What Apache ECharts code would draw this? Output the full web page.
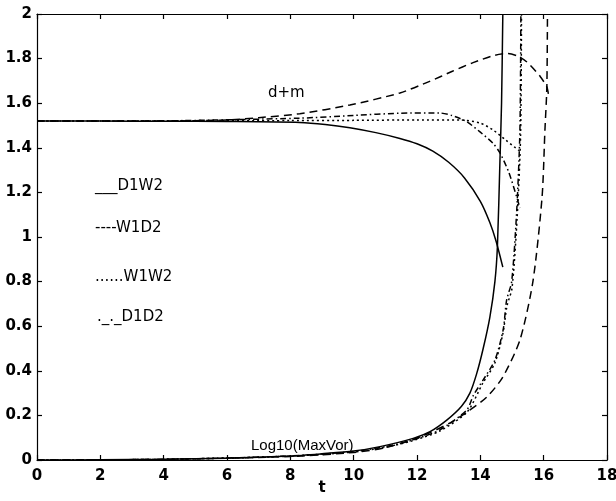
<!DOCTYPE html>
<html>
<head>
<meta charset="utf-8">
<script src="https://cdn.jsdelivr.net/npm/echarts@6/dist/echarts.min.js"></script>
<style>
  html, body { margin: 0; padding: 0; background: #fff; }
  #chart { width: 616px; height: 501px; }
</style>
</head>
<body>
<div id="chart"></div>
<script>
// values, [t, value]
const xTicks = [0, 2, 4, 6, 8, 10, 12, 14, 16, 18];
const yTicks = [0, 0.2, 0.4, 0.6, 0.8, 1, 1.2, 1.4, 1.6, 1.8, 2];

// d+m curves
const d1w2Dm = [[0,1.52],[2,1.52],[4,1.519],[6,1.518],[8.3,1.514],[9.1,1.505],[9.88,1.49],[10.7,1.468],[11.46,1.442],[12,1.418],[12.5,1.385],[13,1.335],[13.5,1.265],[14,1.16],[14.3,1.065],[14.5,0.98],[14.71,0.865]];
const w1d2Dm = [[0,1.52],[4,1.52],[6,1.525],[7,1.535],[8.3,1.553],[9.88,1.592],[11.46,1.646],[12.4,1.698],[13.1,1.742],[13.77,1.782],[14.46,1.815],[14.87,1.823],[15.2,1.81],[15.47,1.785],[15.89,1.72],[16.1,1.673],[16.15,1.64]];
const w1w2Dm = [[0,1.52],[4,1.52],[8,1.522],[10,1.523],[12,1.525],[13.36,1.525],[14,1.511],[14.4,1.48],[14.8,1.435],[15.2,1.39],[15.3,1.38]];
const d1d2Dm = [[0,1.52],[4,1.521],[8.3,1.533],[10,1.545],[11.46,1.555],[12.72,1.556],[13.1,1.545],[13.57,1.517],[14.0,1.47],[14.4,1.42],[14.62,1.377],[14.9,1.29],[15.15,1.179],[15.25,1.13]];

// Log10(MaxVor) curves
const d1w2Vor = [[0,0],[2,0.001],[4,0.003],[6,0.008],[8,0.018],[9,0.028],[10,0.04],[10.83,0.06],[11.88,0.097],[12.41,0.127],[12.94,0.179],[13.4,0.24],[13.67,0.3],[13.88,0.385],[14.09,0.5],[14.3,0.64],[14.46,0.8],[14.54,0.96],[14.62,1.345],[14.67,1.6],[14.71,2.0]];
const w1d2Vor = [[0,0],[4,0.003],[8,0.016],[10,0.034],[11,0.055],[12.09,0.103],[13.04,0.166],[13.58,0.215],[14.21,0.283],[14.71,0.372],[15.25,0.538],[15.66,0.8],[15.95,1.18],[16.04,1.48],[16.1,1.67],[16.12,2.0]];
const w1w2Vor = [[0,0],[4,0.003],[8,0.017],[10,0.036],[11,0.057],[11.87,0.087],[12.72,0.13],[13.58,0.215],[14.08,0.345],[14.46,0.435],[14.71,0.565],[14.84,0.69],[15.0,0.77],[15.16,1.08],[15.27,1.45],[15.3,2.0]];
const d1d2Vor = [[0,0],[4,0.003],[8,0.018],[10,0.038],[11,0.06],[11.87,0.09],[12.72,0.135],[13.57,0.224],[13.78,0.29],[14.09,0.359],[14.46,0.448],[14.72,0.583],[14.83,0.717],[14.99,0.8],[15.15,1.121],[15.25,1.48],[15.28,2.0]];

const legendText = ['___D1W2', '----W1D2', '......W1W2', '._._D1D2'];

const chart = echarts.init(document.getElementById('chart'));
const font = 'DejaVu Sans';
const ink = '#000';

function line(data, type) {
  return {
    type: 'line',
    data: data,
    showSymbol: false,
    smooth: 0.25,
    lineStyle: { color: ink, width: 1.5, type: type },
    xAxisIndex: 0,
    yAxisIndex: 0,
  };
}

const dashed = [8, 5];
const dotted = [2, 3];
const dashDot = [6, 3, 1.5, 3];

function axisCommon(showLabel, margin) {
  return {
    axisLine: { show: true, onZero: false, lineStyle: { color: ink, width: 1.2 } },
    axisTick: { show: true, inside: true, length: 5, lineStyle: { color: ink, width: 1.2 } },
    splitLine: { show: false },
    axisLabel: { show: showLabel, color: ink, fontFamily: font, fontWeight: 'bold', fontSize: 15, margin: margin },
  };
}

chart.setOption({
  animation: false,
  backgroundColor: '#fff',
  grid: { left: 37, right: 9, top: 14, bottom: 41, containLabel: false, outerBoundsMode: 'none' },
  xAxis: [
    Object.assign({
      type: 'value', min: xTicks[0], max: xTicks[xTicks.length - 1], interval: 2,
      position: 'bottom',
      name: 't', nameLocation: 'middle', nameGap: 21, nameMoveOverlap: false,
      nameTextStyle: { color: ink, fontFamily: font, fontWeight: 'bold', fontSize: 15 },
    }, axisCommon(true, 9)),
    Object.assign({
      type: 'value', min: xTicks[0], max: xTicks[xTicks.length - 1], interval: 2,
      position: 'top',
    }, axisCommon(false, 5)),
  ],
  yAxis: [
    Object.assign({
      type: 'value', min: yTicks[0], max: yTicks[yTicks.length - 1], interval: 0.2,
      position: 'left',
    }, axisCommon(true, 5)),
    Object.assign({
      type: 'value', min: yTicks[0], max: yTicks[yTicks.length - 1], interval: 0.2,
      position: 'right',
    }, axisCommon(false, 5)),
  ],
  series: [
    line(d1w2Dm, 'solid'),
    line(w1d2Dm, dashed),
    line(w1w2Dm, dotted),
    line(d1d2Dm, dashDot),
    line(d1w2Vor, 'solid'),
    line(w1d2Vor, dashed),
    line(w1w2Vor, dotted),
    line(d1d2Vor, dashDot),
  ],
  graphic: [
    { type: 'text', left: 268, top: 86, style: { text: 'd+m', fill: ink, font: '15px "DejaVu Sans"' } },
    { type: 'text', left: 251, top: 438, style: { text: 'Log10(MaxVor)', fill: ink, font: '15px "Liberation Sans"' } },
    { type: 'text', left: 95, top: 179, style: { text: legendText[0], fill: ink, font: '15px "DejaVu Sans"' } },
    { type: 'text', left: 95, top: 221, style: { text: legendText[1], fill: ink, font: '15px "DejaVu Sans"' } },
    { type: 'text', left: 95, top: 270, style: { text: legendText[2], fill: ink, font: '15px "DejaVu Sans"' } },
    { type: 'text', left: 97, top: 310, style: { text: legendText[3], fill: ink, font: '15px "DejaVu Sans"' } },
  ],
});
</script>
</body>
</html>
